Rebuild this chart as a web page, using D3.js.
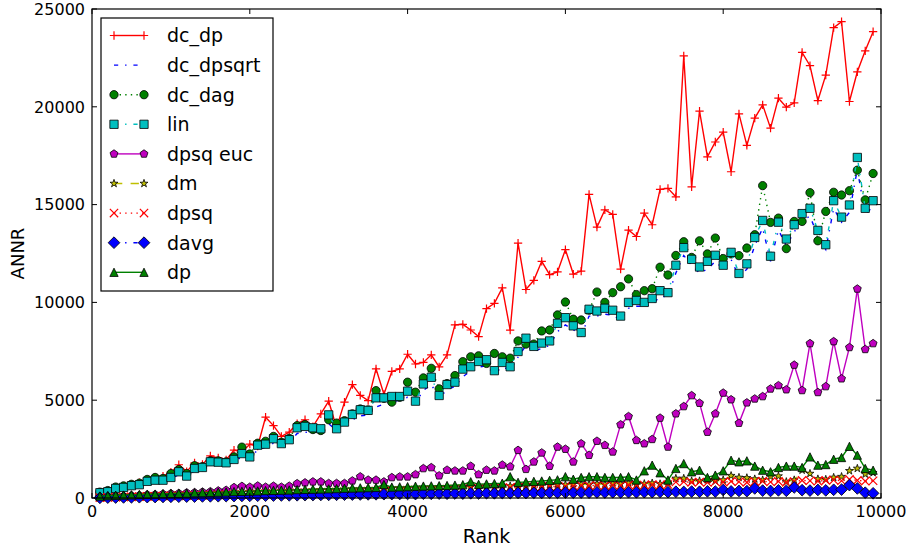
<!DOCTYPE html>
<html lang="en">
<head>
<meta charset="UTF-8">
<title>ANNR vs Rank</title>
<script src="https://d3js.org/d3.v7.min.js"></script>
<style>
    body { margin: 0; background: #fff; }
    svg { display: block; font-family: "DejaVu Sans", sans-serif; }
</style>
</head>
<body>
<svg id="chart" width="910" height="550"></svg>
<script>
// ranks sampled every 100 from 100 to 9900
const ranks = d3.range(100, 10000, 100);

const dc_dp = [150, 260, 380, 520, 700, 780, 930, 1050, 1120, 1320,
    1700, 1350, 1800, 1720, 2150, 2050, 1950, 2450, 2350, 2750,
    2650, 4130, 3700, 3150, 3370, 3800, 4000, 3650, 4300, 4950,
    3600, 4900, 5800, 5250, 4980, 6600, 5300, 6470, 6600, 7350,
    6850, 6930, 7320, 6700, 7320, 8850, 8880, 8590, 8250, 9680,
    9950, 10740, 8580, 13030, 10660, 11130, 12100, 11420, 11560, 12700,
    11450, 11600, 15520, 13850, 14730, 14500, 11700, 13700, 13370, 14560,
    13970, 15780, 15830, 15400, 22600, 15910, 19780, 17440, 18200, 18710,
    16680, 19640, 18030, 19420, 20100, 18910, 20440, 19980, 20200, 22780,
    22100, 20320, 21620, 24050, 24350, 20270, 21790, 22860, 23840];

const dc_dpsqrt = [200, 290, 420, 500, 580, 650, 780, 860, 880, 980,
    1200, 1080, 1400, 1480, 1700, 1750, 1700, 1850, 2100, 2050,
    2450, 2600, 2800, 2650, 2850, 3300, 3350, 3400, 3350, 3800,
    3450, 3700, 4000, 4200, 4250, 4650, 4800, 4900, 5000, 5150,
    4850, 5500, 5800, 5100, 5550, 5700, 6200, 6500, 6700, 6750,
    6350, 6700, 6550, 7200, 7800, 7500, 7650, 7800, 8500, 8850,
    8600, 8300, 9300, 9300, 9400, 9350, 9100, 9700, 9800, 9800,
    9900, 10300, 10300, 11500, 12400, 11900, 11500, 11700, 12100, 11700,
    12200, 11300, 11700, 12900, 13800, 12100, 13700, 12900, 13600, 14200,
    14400, 13400, 12700, 14800, 14100, 14600, 16800, 14500, 14900];

const dc_dag = [300, 380, 560, 620, 700, 760, 950, 1050, 1000, 1250,
    1450, 1250, 1650, 1600, 1900, 1900, 1850, 2100, 2600, 2250,
    2800, 2900, 3150, 2850, 3050, 3700, 3750, 3500, 3450, 4000,
    3830, 3950, 4300, 4550, 4500, 5490, 5100, 4900, 5150, 5920,
    5410, 6140, 6630, 5580, 5850, 6260, 6970, 7220, 7270, 6880,
    7390, 7220, 7150, 8030, 7870, 7870, 8540, 8590, 9360, 10020,
    9140, 9100, 9600, 10530, 10000, 10500, 10800, 11200, 10400, 10600,
    10700, 11800, 11400, 12400, 13100, 12300, 13150, 12480, 13290, 12240,
    12480, 12390, 12780, 13460, 15970, 14090, 14310, 12750, 14140, 14140,
    15610, 13150, 14650, 15630, 15490, 15710, 16760, 15240, 16590];

const lin = [270, 320, 490, 540, 630, 680, 850, 910, 910, 1050,
    1340, 1120, 1510, 1560, 1850, 1830, 1800, 1970, 2270, 2100,
    2700, 2750, 3030, 2780, 2980, 3590, 3660, 3590, 3540, 4250,
    3540, 3880, 4270, 4510, 4480, 5120, 5120, 5190, 5190, 5460,
    4950, 5830, 6170, 5240, 5800, 5920, 6590, 6710, 6980, 7070,
    6510, 6930, 6710, 7490, 8170, 7750, 7920, 8030, 8930, 9220,
    8800, 8460, 9650, 9560, 9700, 9600, 9300, 10000, 10100, 10000,
    10200, 10600, 10500, 11900, 12800, 12200, 11810, 12100, 12410, 11900,
    12560, 11480, 11970, 13320, 14190, 12360, 14100, 13240, 13970, 14540,
    14810, 13680, 12950, 15200, 14360, 14980, 17410, 14810, 15200];

const dpsq_euc = [40, 60, 90, 100, 130, 140, 170, 180, 210, 230,
    240, 270, 280, 310, 330, 370, 400, 540, 600, 560,
    620, 560, 610, 560, 610, 740, 780, 830, 830, 750,
    750, 750, 880, 1090, 920, 920, 830, 1050, 1085, 1085,
    1200, 1510, 1560, 1140, 1430, 1390, 1390, 1630, 1200, 1430,
    1390, 1690, 1600, 2440, 1470, 1850, 2310, 1630, 2610, 2500,
    1850, 2780, 2190, 2910, 2700, 2360, 3750, 4170, 2950, 2780,
    3000, 4090, 2610, 4310, 4680, 5240, 4850, 3370, 4310, 5370,
    5030, 3830, 4870, 5070, 5190, 5580, 5750, 5540, 6800, 5500,
    7900, 5400, 5700, 8000, 6100, 7700, 10690, 7600, 7900];

const dm = [30, 40, 60, 70, 80, 100, 110, 120, 140, 150,
    160, 170, 190, 200, 210, 230, 240, 250, 270, 280,
    300, 290, 320, 330, 340, 360, 350, 380, 390, 400,
    380, 420, 430, 410, 450, 460, 440, 480, 470, 500,
    490, 520, 510, 540, 530, 560, 550, 580, 570, 600,
    590, 620, 610, 640, 650, 630, 660, 680, 700, 680,
    720, 700, 690, 720, 700, 740, 720, 760, 700, 730,
    760, 720, 740, 1000, 1000, 870, 870, 920, 870, 920,
    1140, 1050, 1030, 970, 920, 1090, 1120, 830, 920, 1420,
    1250, 970, 950, 1050, 1090, 1390, 1510, 1220, 1290];

const dpsq = [20, 30, 40, 50, 60, 70, 80, 90, 100, 110,
    110, 120, 130, 140, 150, 160, 170, 180, 190, 200,
    210, 220, 230, 240, 250, 260, 270, 280, 290, 300,
    310, 320, 330, 340, 350, 360, 370, 380, 390, 400,
    410, 420, 430, 440, 450, 460, 470, 480, 490, 500,
    510, 520, 530, 540, 550, 560, 570, 580, 590, 600,
    610, 640, 620, 650, 630, 660, 640, 670, 650, 660,
    680, 660, 690, 820, 830, 800, 820, 790, 830, 810,
    850, 830, 800, 840, 860, 820, 850, 800, 840, 900,
    880, 860, 900, 920, 880, 950, 900, 860, 880];

const davg = [10, 20, 25, 30, 35, 40, 45, 50, 55, 60,
    65, 70, 75, 80, 85, 90, 95, 100, 105, 110,
    115, 120, 125, 130, 135, 140, 145, 150, 155, 160,
    165, 170, 175, 180, 185, 190, 195, 200, 205, 210,
    200, 220, 215, 225, 220, 230, 225, 240, 230, 245,
    240, 250, 245, 260, 255, 265, 260, 270, 265, 275,
    270, 280, 275, 285, 280, 290, 285, 295, 290, 300,
    300, 310, 300, 320, 310, 330, 320, 340, 330, 410,
    340, 360, 350, 490, 380, 360, 390, 370, 540, 400,
    380, 410, 390, 420, 430, 660, 490, 270, 240];

const dp = [100, 120, 140, 150, 160, 180, 190, 200, 220, 230,
    240, 250, 270, 280, 290, 300, 310, 330, 340, 350,
    360, 380, 390, 400, 410, 430, 440, 450, 460, 470,
    480, 500, 510, 520, 530, 540, 690, 560, 570, 580,
    600, 610, 620, 630, 640, 660, 680, 830, 700, 720,
    740, 760, 1090, 800, 820, 850, 870, 900, 930, 1090,
    960, 1050, 1090, 1090, 1050, 1050, 1050, 1090, 920, 1390,
    1680, 1290, 920, 1510, 1760, 1340, 1420, 1050, 1170, 1390,
    1930, 1850, 1900, 1630, 1420, 1340, 1560, 1630, 1630, 1560,
    2100, 1680, 1710, 1980, 2070, 2640, 2190, 1510, 1420];

const xTicks = [0, 2000, 4000, 6000, 8000, 10000];
const yTicks = [0, 5000, 10000, 15000, 20000, 25000];

// matplotlib classic colours and styles
const series = [
    { name: "dc_dp",     values: dc_dp,     color: "#ff0000", dash: null,          marker: "plus" },
    { name: "dc_dpsqrt", values: dc_dpsqrt, color: "#0000ff", dash: "4.2,6.9,1.4,6.9", marker: null },
    { name: "dc_dag",    values: dc_dag,    color: "#008000", dash: "1.4,4.2",     marker: "circle" },
    { name: "lin",       values: lin,       color: "#00bfbf", dash: "4.2,6.9,1.4,6.9", marker: "square" },
    { name: "dpsq euc",  values: dpsq_euc,  color: "#bf00bf", dash: null,          marker: "pentagon" },
    { name: "dm",        values: dm,        color: "#bfbf00", dash: "8.3,8.3",     marker: "star" },
    { name: "dpsq",      values: dpsq,      color: "#ff0000", dash: "1.4,4.2",     marker: "x" },
    { name: "davg",      values: davg,      color: "#0000ff", dash: "4.2,6.9,1.4,6.9", marker: "diamond" },
    { name: "dp",        values: dp,        color: "#008000", dash: null,          marker: "triangle" }
];

const margin = { left: 92, right: 29, top: 9, bottom: 52 };
const W = 910, H = 550;
const svg = d3.select("#chart");
svg.append("rect").attr("width", W).attr("height", H).attr("fill", "#fff");

const x = d3.scaleLinear().domain([0, 10000]).range([margin.left, W - margin.right]);
const y = d3.scaleLinear().domain([0, 25000]).range([H - margin.bottom, margin.top]);

const ms = 8.3, h = ms / 2;

function polygon(n, r, inner) {
    const pts = [];
    const k = inner ? n * 2 : n;
    for (let i = 0; i < k; i++) {
        const a = -Math.PI / 2 + i * 2 * Math.PI / k;
        const rr = inner && i % 2 ? r * inner : r;
        pts.push([rr * Math.cos(a), rr * Math.sin(a)]);
    }
    return "M" + pts.map(p => p[0].toFixed(2) + "," + p[1].toFixed(2)).join("L") + "Z";
}

const markerPath = {
    plus: `M${-h},0L${h},0M0,${-h}L0,${h}`,
    x: `M${-h},${-h}L${h},${h}M${-h},${h}L${h},${-h}`,
    circle: d3.symbol(d3.symbolCircle, Math.PI * h * h)(),
    square: `M${-h},${-h}H${h}V${h}H${-h}Z`,
    pentagon: polygon(5, h),
    star: polygon(5, h, 0.381966),
    diamond: polygon(4, h * Math.SQRT2),
    triangle: `M0,${-h}L${h},${h}L${-h},${h}Z`
};
const strokeOnly = new Set(["plus", "x"]);

function drawMarker(g, type, color, px, py) {
    const p = g.append("path")
        .attr("d", markerPath[type])
        .attr("transform", `translate(${px},${py})`);
    if (strokeOnly.has(type)) {
        p.attr("fill", "none").attr("stroke", color).attr("stroke-width", 1.2);
    } else {
        p.attr("fill", color).attr("stroke", "#000").attr("stroke-width", 0.8);
    }
}

const line = d3.line().x((d, i) => x(ranks[i])).y(d => y(d));

series.forEach(s => {
    const g = svg.append("g");
    g.append("path")
        .attr("d", line(s.values))
        .attr("fill", "none")
        .attr("stroke", s.color)
        .attr("stroke-width", 1.4)
        .attr("stroke-dasharray", s.dash);
    if (s.marker) {
        s.values.forEach((v, i) => drawMarker(g, s.marker, s.color, x(ranks[i]), y(v)));
    }
});

// frame and inward ticks on all sides
const x0 = x(0), x1 = x(10000), y0 = y(0), y1 = y(25000);
svg.append("rect")
    .attr("x", x0).attr("y", y1).attr("width", x1 - x0).attr("height", y0 - y1)
    .attr("fill", "none").attr("stroke", "#000").attr("stroke-width", 1.2);

const tl = 5;
xTicks.forEach(t => {
    svg.append("line").attr("x1", x(t)).attr("x2", x(t)).attr("y1", y0).attr("y2", y0 - tl).attr("stroke", "#000");
    svg.append("line").attr("x1", x(t)).attr("x2", x(t)).attr("y1", y1).attr("y2", y1 + tl).attr("stroke", "#000");
    svg.append("text").attr("x", x(t)).attr("y", y0 + 19)
        .attr("text-anchor", "middle").attr("font-size", 16).text(t);
});
yTicks.forEach(t => {
    svg.append("line").attr("x1", x0).attr("x2", x0 + tl).attr("y1", y(t)).attr("y2", y(t)).attr("stroke", "#000");
    svg.append("line").attr("x1", x1).attr("x2", x1 - tl).attr("y1", y(t)).attr("y2", y(t)).attr("stroke", "#000");
    svg.append("text").attr("x", x0 - 7).attr("y", y(t)).attr("dy", "0.36em")
        .attr("text-anchor", "end").attr("font-size", 16).text(t);
});

svg.append("text").attr("x", (x0 + x1) / 2).attr("y", 543)
    .attr("text-anchor", "middle").attr("font-size", 19).text("Rank");
svg.append("text").attr("transform", `translate(24,${(y0 + y1) / 2}) rotate(-90)`)
    .attr("text-anchor", "middle").attr("font-size", 18).text("ANNR");

// legend
const lg = svg.append("g");
lg.append("rect").attr("x", 101).attr("y", 18).attr("width", 172).attr("height", 273)
    .attr("fill", "#fff").attr("stroke", "#000").attr("stroke-width", 1.2);
series.forEach((s, i) => {
    const cy = 35.5 + i * 29.6;
    lg.append("line").attr("x1", 114).attr("x2", 144).attr("y1", cy).attr("y2", cy)
        .attr("stroke", s.color).attr("stroke-width", 1.4).attr("stroke-dasharray", s.dash);
    if (s.marker) {
        drawMarker(lg, s.marker, s.color, 114, cy);
        drawMarker(lg, s.marker, s.color, 144, cy);
    }
    lg.append("text").attr("x", 167).attr("y", cy).attr("dy", "0.36em")
        .attr("font-size", 19).text(s.name);
});
</script>
</body>
</html>
